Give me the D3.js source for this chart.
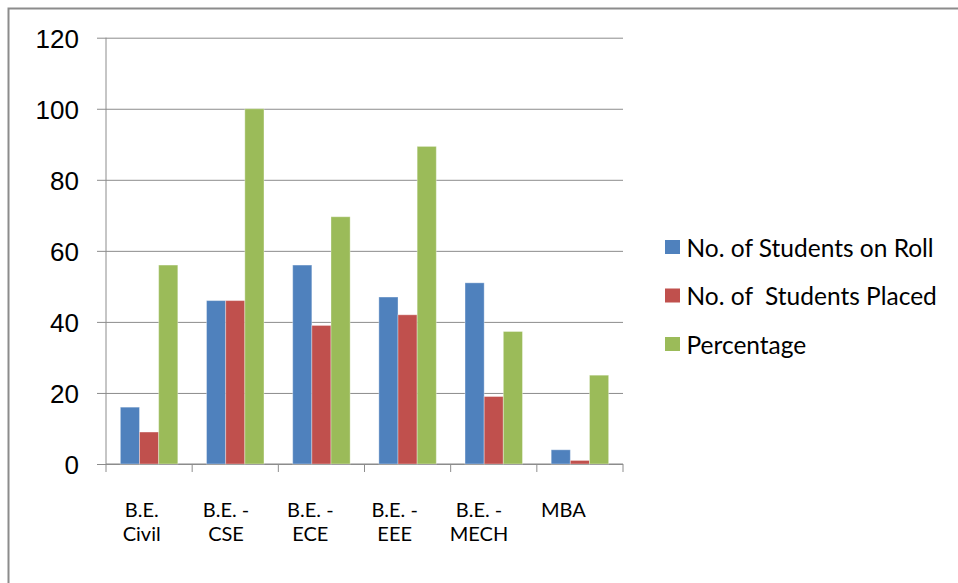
<!DOCTYPE html>
<html>
<head>
<meta charset="utf-8">
<script src="https://cdnjs.cloudflare.com/ajax/libs/d3/7.8.5/d3.min.js"></script>
<style>
  body { margin: 0; background: #fff; }
  svg { display: block; font-family: Lato, "Open Sans", sans-serif; }
</style>
</head>
<body>
<div id="chart"></div>
<script>
const categories = [["B.E.", "Civil"], ["B.E. -", "CSE"], ["B.E. -", "ECE"], ["B.E. -", "EEE"], ["B.E. -", "MECH"], ["MBA"]];
const seriesNames = ["No. of Students on Roll", "No. of  Students Placed", "Percentage"];
const onRoll = [16, 46, 56, 47, 51, 4];
const placed = [9, 46, 39, 42, 19, 1];
const percentage = [56, 100, 69.6, 89.4, 37.3, 25];
const yTicks = [0, 20, 40, 60, 80, 100, 120];
const colors = ["#4F81BD", "#C0504D", "#9BBB59"];

const W = 958, H = 583;
const margin = {top: 37.7, left: 106, right: 335, bottom: 119};
const width = W - margin.left - margin.right;
const height = H - margin.top - margin.bottom;

const svg = d3.select("#chart").append("svg")
  .attr("width", W)
  .attr("height", H);

// outer frame
svg.append("rect")
  .attr("x", 8.5).attr("y", 8.5)
  .attr("width", W).attr("height", H)
  .attr("fill", "none")
  .attr("stroke", "#8c8c8c")
  .attr("stroke-width", 2);

const g = svg.append("g")
  .attr("transform", "translate(" + margin.left + "," + margin.top + ")");

const keys = categories.map((c, i) => i);
const x = d3.scaleBand().domain(keys).range([0, width]).paddingInner(0).paddingOuter(0);
// gap width 150% -> 0.75 of a bar on each side
const x1 = d3.scaleBand().domain([0, 1, 2]).range([0, x.bandwidth()]).paddingInner(0).paddingOuter(0.75);
const y = d3.scaleLinear().domain([0, 120]).range([height, 0]);

// grid + y axis
const yAxis = d3.axisLeft(y).tickValues(yTicks).tickSize(-width - 9).tickSizeOuter(0).tickPadding(18);
const ya = g.append("g")
  .attr("transform", "translate(" + (-9) + ",0)")
  .call(yAxis);
ya.select(".domain").remove();
ya.selectAll(".tick line").attr("stroke", "#8c8c8c").attr("x2", width + 9);
ya.selectAll(".tick text")
  .attr("font-size", 26)
  .attr("fill", "#000")
  .attr("dy", "0.36em");

g.append("line")
  .attr("x1", 0).attr("x2", 0)
  .attr("y1", 0).attr("y2", height)
  .attr("stroke", "#8c8c8c");

// x axis
const boundaries = d3.range(categories.length + 1).map(i => i * x.step());
g.append("line")
  .attr("x1", 0).attr("x2", width)
  .attr("y1", height).attr("y2", height)
  .attr("stroke", "#8c8c8c");
g.selectAll(".xtick").data(boundaries).enter().append("line")
  .attr("class", "xtick")
  .attr("x1", d => d).attr("x2", d => d)
  .attr("y1", height).attr("y2", height + 8)
  .attr("stroke", "#8c8c8c");

// bars
const table = categories.map((c, i) => [onRoll[i], placed[i], percentage[i]]);
const groups = g.selectAll(".grp").data(table).enter().append("g")
  .attr("class", "grp")
  .attr("transform", (d, i) => "translate(" + x(i) + ",0)");
groups.selectAll("rect").data(d => d).enter().append("rect")
  .attr("x", (d, j) => x1(j))
  .attr("width", x1.bandwidth())
  .attr("y", d => y(d))
  .attr("height", d => height - y(d))
  .attr("fill", (d, j) => colors[j])
  .attr("stroke", "#fff")
  .attr("stroke-opacity", 0.35)
  .attr("stroke-width", 1);

// category labels (slightly compressed spacing as in source)
const lx = d3.scalePoint().domain(keys).range([35.7, 457.3]);
const labels = g.selectAll(".cat").data(categories).enter().append("text")
  .attr("class", "cat")
  .attr("text-anchor", "middle")
  .attr("font-size", 20)
  .attr("fill", "#000")
  .attr("x", (d, i) => lx(i))
  .attr("y", height + 53);
labels.selectAll("tspan").data(d => d).enter().append("tspan")
  .attr("x", function() { return d3.select(this.parentNode).attr("x"); })
  .attr("dy", (d, i) => i === 0 ? 0 : 24.5)
  .text(d => d);

// legend
const legend = svg.append("g").attr("transform", "translate(665,240)");
const items = legend.selectAll(".item").data(seriesNames).enter().append("g")
  .attr("class", "item")
  .attr("transform", (d, i) => "translate(0," + i * 48.5 + ")");
items.append("rect")
  .attr("width", 15).attr("height", 14)
  .attr("fill", (d, i) => colors[i]);
items.append("text")
  .attr("x", 21.5)
  .attr("y", 16.5)
  .attr("font-size", 24.5)
  .attr("fill", "#000")
  .attr("xml:space", "preserve")
  .style("white-space", "pre")
  .text(d => d);
</script>
</body>
</html>
